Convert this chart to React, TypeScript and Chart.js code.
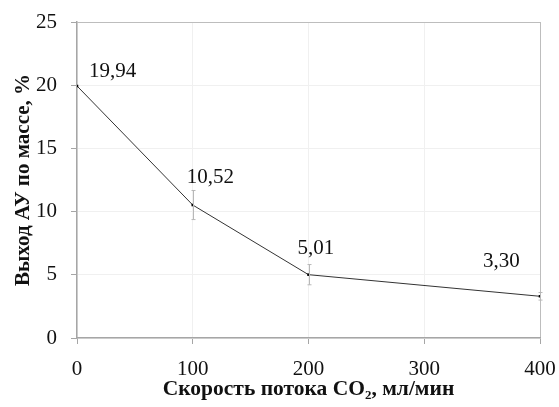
import React, { useEffect, useRef } from "react";
import { Chart, registerables } from "chart.js";

Chart.register(...registerables);

const flowRates = [0, 100, 200, 400];
const yieldValues = [19.94, 10.52, 5.01, 3.3];
const yieldErrors = [0, 1.15, 0.8, 0.3];
const xTicks = [0, 100, 200, 300, 400];
const yTicks = [0, 5, 10, 15, 20, 25];

const labelOffsets = [
  [12, -14],
  [-6, -28],
  [-11, -26],
  [-57, -35],
];

const FONT = "'Liberation Serif', 'Times New Roman', serif";

const errorBarPlugin = {
  id: "errorBars",
  afterDatasetsDraw(chart: any) {
    const ctx = chart.ctx;
    const xs = chart.scales.x;
    const ys = chart.scales.y;
    ctx.save();
    ctx.strokeStyle = "#b8b8b8";
    ctx.lineWidth = 1;
    flowRates.forEach((x, i) => {
      const e = yieldErrors[i];
      if (!e) return;
      const px = Math.round(xs.getPixelForValue(x)) + 0.5;
      const top = ys.getPixelForValue(yieldValues[i] + e);
      const bot = ys.getPixelForValue(yieldValues[i] - e);
      ctx.beginPath();
      ctx.moveTo(px, top);
      ctx.lineTo(px, bot);
      ctx.moveTo(px - 2, top);
      ctx.lineTo(px + 2, top);
      ctx.moveTo(px - 2, bot);
      ctx.lineTo(px + 2, bot);
      ctx.stroke();
    });
    ctx.restore();
  },
};

const valueLabelPlugin = {
  id: "valueLabels",
  afterDraw(chart: any) {
    const ctx = chart.ctx;
    const meta = chart.getDatasetMeta(0);
    ctx.save();
    ctx.font = `21px ${FONT}`;
    ctx.fillStyle = "#111";
    ctx.textAlign = "left";
    ctx.textBaseline = "middle";
    meta.data.forEach((pt: any, i: number) => {
      const [dx, dy] = labelOffsets[i];
      const txt = yieldValues[i].toFixed(2).replace(".", ",");
      ctx.fillText(txt, pt.x + dx, pt.y + dy);
    });
    ctx.restore();
  },
};

export default function App() {
  const ref = useRef<HTMLCanvasElement>(null);
  useEffect(() => {
    if (!ref.current) return;
    const chart = new Chart(ref.current, {
      type: "line",
      data: {
        datasets: [
          {
            data: flowRates.map((x, i) => ({ x, y: yieldValues[i] })),
            borderColor: "#333",
            borderWidth: 1,
            backgroundColor: "#000",
            pointStyle: "rect",
            pointRadius: 1.8,
            pointBorderWidth: 0,
            tension: 0,
          },
        ],
      },
      options: {
        responsive: false,
        animation: false,
        events: [],
        layout: { padding: { top: 22, right: 19, left: 0, bottom: 0 } },
        plugins: { legend: { display: false }, tooltip: { enabled: false } },
        scales: {
          x: {
            type: "linear",
            min: 0,
            max: 400,
            afterBuildTicks: (s: any) => {
              s.ticks = xTicks.map((v) => ({ value: v }));
            },
            afterFit: (s: any) => {
              s.height = 69;
              s.paddingLeft = 0;
              s.paddingRight = 0;
            },
            grid: {
              color: (c: any) => (c.tick && c.tick.value === 400 ? "#bdbdbd" : "#f0f0f0"),
              tickColor: "#a6a6a6",
              tickLength: 6,
            },
            border: { color: "#a6a6a6", width: 1.5 },
            ticks: {
              font: { family: FONT, size: 21 },
              color: "#111",
              padding: 13,
              maxRotation: 0,
            },
            title: {
              display: true,
              text: "Скорость потока CO₂, мл/мин",
              font: { family: FONT, size: 21.5, weight: "bold" },
              color: "#111",
              padding: { top: 0, bottom: 5 },
            },
          },
          y: {
            min: 0,
            max: 25,
            afterBuildTicks: (s: any) => {
              s.ticks = yTicks.map((v) => ({ value: v }));
            },
            afterFit: (s: any) => {
              s.width = 77;
              s.paddingTop = 0;
              s.paddingBottom = 0;
            },
            grid: {
              color: (c: any) => (c.tick && c.tick.value === 25 ? "#bdbdbd" : "#f0f0f0"),
              tickColor: "#a6a6a6",
              tickLength: 6,
            },
            border: { color: "#a6a6a6", width: 1.5 },
            ticks: {
              font: { family: FONT, size: 21 },
              color: "#111",
              padding: 14,
            },
            title: {
              display: true,
              text: "Выход АУ по массе, %",
              font: { family: FONT, size: 21, weight: "bold" },
              color: "#111",
              padding: { top: 11, bottom: 0 },
            },
          },
        },
      },
      plugins: [errorBarPlugin, valueLabelPlugin],
    } as any);
    return () => chart.destroy();
  }, []);
  return (
    <div style={{ position: "fixed", left: 0, top: 0, width: 559, height: 407, background: "#fff" }}>
      <canvas ref={ref} width={559} height={407} />
    </div>
  );
}
